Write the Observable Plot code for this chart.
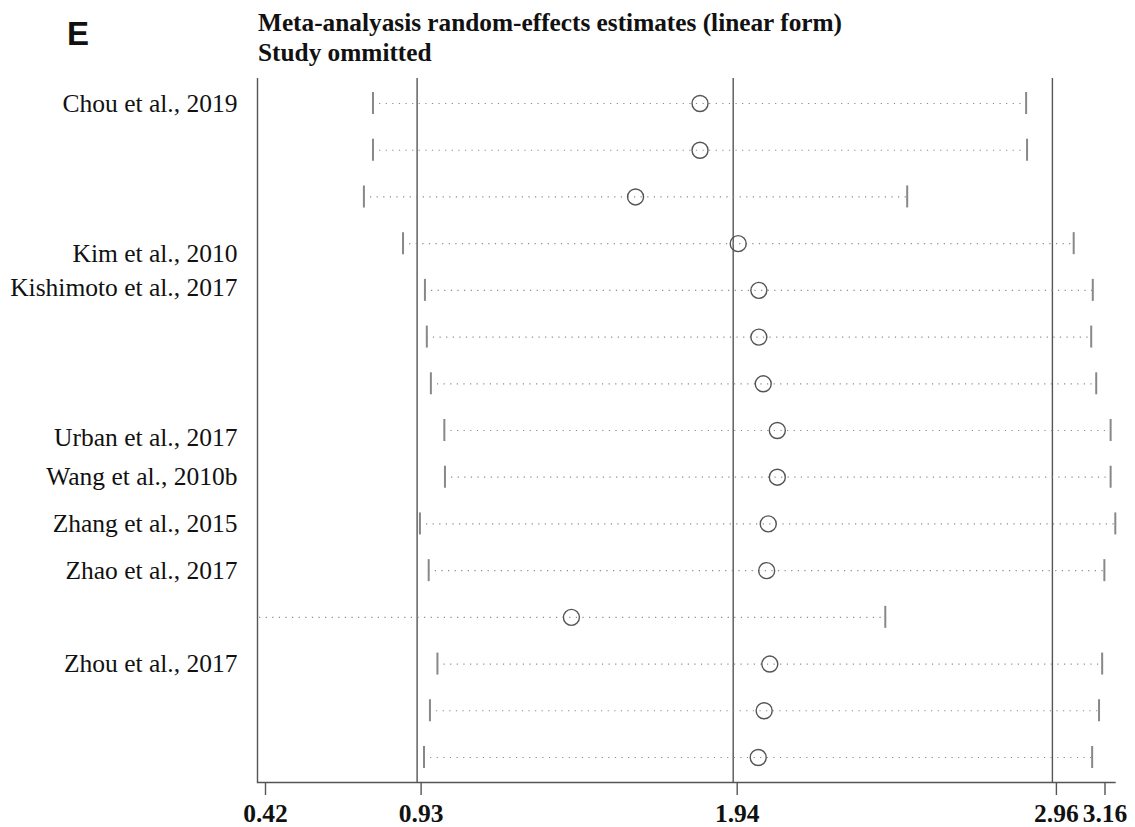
<!DOCTYPE html>
<html><head><meta charset="utf-8">
<script src="https://cdn.jsdelivr.net/npm/d3@7"></script>
<script src="https://cdn.jsdelivr.net/npm/@observablehq/plot@0.6"></script>
<style>
body{margin:0;background:#fff;}
#wrap{position:relative;width:1135px;height:827px;overflow:hidden;}
.t{position:absolute;font-family:"Liberation Serif","Times New Roman",serif;font-weight:bold;font-size:25.3px;line-height:1;color:#111;white-space:nowrap;}
</style></head><body>
<div id="wrap">
<div id="chart"></div>
<div class="t" style="font-family:'Liberation Sans',Arial,sans-serif;font-size:33px;left:67px;top:17px;">E</div>
<div class="t" style="left:258px;top:10px;">Meta-analyasis random-effects estimates (linear form)</div>
<div class="t" style="left:258px;top:40px;">Study ommitted</div>
</div>
<script>
const studies = ["Chou et al., 2019", "", "", "Kim et al., 2010", "Kishimoto et al., 2017", "", "", "Urban et al., 2017", "Wang et al., 2010b", "Zhang et al., 2015", "Zhao et al., 2017", "", "Zhou et al., 2017", "", ""];
const estimate = [1.834, 1.834, 1.628, 1.956, 2.022, 2.022, 2.036, 2.081, 2.081, 2.052, 2.047, 1.423, 2.057, 2.039, 2.020];
const lower = [0.789, 0.789, 0.760, 0.885, 0.955, 0.961, 0.974, 1.017, 1.019, 0.939, 0.967, 0.300, 0.995, 0.971, 0.952];
const upper = [2.876, 2.879, 2.496, 3.028, 3.089, 3.084, 3.100, 3.146, 3.146, 3.161, 3.126, 2.426, 3.119, 3.109, 3.087];
const tickValues = [0.42, 0.93, 1.94, 2.96, 3.16];
const refLines = [0.42, 0.93, 1.94, 2.96];

const rows = studies.map((s, i) => ({i, label: s, est: estimate[i], lo: lower[i], hi: upper[i]}));
const serif = "Liberation Serif, Times New Roman, serif";
const xAxisStyle = {tickFormat: d => d.toFixed(2), tickSize: 13, tickPadding: 8, fontSize: 25.5, fontWeight: "bold", fontFamily: serif, stroke: "#555", strokeWidth: 1.4, fill: "#111", label: null};
const yAxisStyle = {tickSize: 0, tickPadding: 20, tickFormat: i => studies[i], fontSize: 25.5, fontFamily: serif, fill: "#111", label: null};
const allRows = d3.range(studies.length);

const chart = Plot.plot({
  width: 1135,
  height: 827,
  marginLeft: 257,
  marginRight: 20.5,
  marginTop: 78,
  marginBottom: 45,
  style: {background: "#fff", color: "#111", fontFamily: serif},
  x: {domain: [0.42, 3.16]},
  y: {type: "band", domain: allRows, paddingInner: 0.529, paddingOuter: 0.30, round: false},
  marks: [
    Plot.ruleX(refLines, {stroke: "#555", strokeWidth: 1.4}),
    Plot.frame({anchor: "bottom", stroke: "#555", strokeWidth: 1.4}),
    Plot.ruleY(rows, {y: "i", x1: "lo", x2: "hi", stroke: "#8a8a8a", strokeWidth: 1.2, strokeDasharray: "1.2,5.4", clip: true}),
    Plot.tickX(rows, {x: "lo", y: "i", stroke: "#888", strokeWidth: 2, clip: true}),
    Plot.tickX(rows, {x: "hi", y: "i", stroke: "#888", strokeWidth: 2}),
    Plot.dot(rows, {x: "est", y: "i", r: 8, stroke: "#555", strokeWidth: 1.4, fill: "none"}),
    Plot.axisY({...yAxisStyle, ticks: allRows.filter(i => i !== 3 && i !== 4 && i !== 7)}),
    Plot.axisY({...yAxisStyle, ticks: [3], dy: 10}),
    Plot.axisY({...yAxisStyle, ticks: [4], dy: -3}),
    Plot.axisY({...yAxisStyle, ticks: [7], dy: 7}),
    Plot.axisX({...xAxisStyle, ticks: tickValues.slice(0, 1), dx: 8}),
    Plot.axisX({...xAxisStyle, ticks: tickValues.slice(1, 4), dx: 4}),
    Plot.axisX({...xAxisStyle, ticks: tickValues.slice(4), dx: -10})
  ]
});
document.getElementById("chart").appendChild(chart);
</script>
</body></html>
